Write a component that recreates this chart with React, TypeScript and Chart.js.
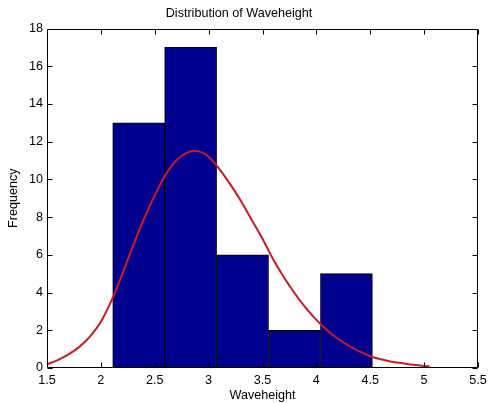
import React, { useEffect, useRef } from "react";
import { Chart, registerables } from "chart.js";

Chart.register(...registerables);

const binCenters = [2.351, 2.833, 3.315, 3.797, 4.279];
const binCounts = [13, 17, 6, 2, 5];
const curveX = [1.5, 1.6, 1.7, 1.8, 1.9, 2.0, 2.1, 2.2, 2.3, 2.4, 2.5, 2.6, 2.7, 2.8, 2.9, 3.0, 3.1, 3.2, 3.3, 3.4, 3.5, 3.6, 3.7, 3.8, 3.9, 4.0, 4.1, 4.2, 4.3, 4.4, 4.5, 4.6, 4.7, 4.8, 4.9, 5.0, 5.05];
const curveY = [0.2, 0.42, 0.72, 1.12, 1.68, 2.45, 3.6, 5.0, 6.5, 7.9, 9.15, 10.25, 11.0, 11.42, 11.5, 11.2, 10.55, 9.75, 8.85, 7.85, 6.85, 5.75, 4.8, 3.95, 3.2, 2.55, 2.0, 1.55, 1.18, 0.88, 0.62, 0.46, 0.33, 0.25, 0.17, 0.11, 0.09];
const xTicks = [1.5, 2, 2.5, 3, 3.5, 4, 4.5, 5, 5.5];
const yTicks = [0, 2, 4, 6, 8, 10, 12, 14, 16, 18];

const FONT = "'Liberation Sans', Arial, sans-serif";

const boxTicks = {
  id: "boxTicks",
  afterDraw(chart: any) {
    const { ctx, chartArea } = chart;
    const xs = chart.scales.x;
    const ys = chart.scales.y;
    const L = 5;
    ctx.save();
    ctx.strokeStyle = "#000";
    ctx.lineWidth = 1;
    ctx.beginPath();
    const l = Math.round(chartArea.left) + 0.5;
    const r = Math.round(chartArea.right) - 0.5;
    const t = Math.round(chartArea.top) + 0.5;
    const b = Math.round(chartArea.bottom) - 0.5;
    ctx.rect(l, t, r - l, b - t);
    for (const v of xTicks) {
      const px = Math.round(xs.getPixelForValue(v)) + 0.5;
      ctx.moveTo(px, b);
      ctx.lineTo(px, b - L);
      ctx.moveTo(px, t);
      ctx.lineTo(px, t + L);
    }
    for (const v of yTicks) {
      const py = Math.round(ys.getPixelForValue(v)) + 0.5;
      ctx.moveTo(l, py);
      ctx.lineTo(l + L, py);
      ctx.moveTo(r, py);
      ctx.lineTo(r - L, py);
    }
    ctx.stroke();
    ctx.restore();
  },
};

export default function App() {
  const ref = useRef<HTMLCanvasElement | null>(null);
  useEffect(() => {
    document.body.style.margin = "0";
    const canvas = ref.current!;
    const chart = new Chart(canvas, {
      type: "bar",
      data: {
        datasets: [
          {
            type: "line",
            label: "Normal fit",
            data: curveX.map((x, i) => ({ x, y: curveY[i] })),
            borderColor: "rgb(205,25,35)",
            borderWidth: 2,
            pointRadius: 0,
            fill: false,
            tension: 0.3,
            order: 0,
          } as any,
          {
            type: "bar",
            label: "Waveheight",
            data: binCenters.map((x, i) => ({ x, y: binCounts[i] })),
            backgroundColor: "rgb(0,0,143)",
            borderColor: "#000",
            borderWidth: 1,
            borderSkipped: false,
            barPercentage: 1,
            categoryPercentage: 1,
            order: 1,
          } as any,
        ],
      },
      options: {
        animation: false,
        responsive: false,
        maintainAspectRatio: false,
        layout: { padding: { left: 0, right: 10, top: 0, bottom: 0 } },
        plugins: {
          legend: { display: false },
          tooltip: { enabled: false },
          title: {
            display: true,
            text: "Distribution of Waveheight",
            color: "#000",
            font: { family: FONT, size: 12.6, weight: "normal" },
            padding: { top: 6, bottom: 7.4 },
          },
        },
        scales: {
          x: {
            type: "linear",
            min: 1.5,
            max: 5.5,
            offset: false,
            afterBuildTicks: (s: any) => {
              s.ticks = xTicks.map((v) => ({ value: v }));
            },
            afterFit: (s: any) => {
              s.height = 35;
              s.paddingLeft = 0;
              s.paddingRight = 0;
            },
            grid: { display: false, drawTicks: false },
            border: { display: false },
            ticks: {
              color: "#000",
              padding: 5,
              maxRotation: 0,
              autoSkip: false,
              font: { family: FONT, size: 12.6 },
              callback: (v: any) => String(v),
            },
            title: {
              display: true,
              text: "Waveheight",
              color: "#000",
              font: { family: FONT, size: 12.6 },
              padding: { top: 0, bottom: 0 },
            },
          },
          y: {
            type: "linear",
            min: 0,
            max: 18,
            afterBuildTicks: (s: any) => {
              s.ticks = yTicks.map((v) => ({ value: v }));
            },
            afterFit: (s: any) => {
              s.width = 47;
              s.paddingTop = 0;
              s.paddingBottom = 0;
            },
            grid: { display: false, drawTicks: false },
            border: { display: false },
            ticks: {
              color: "#000",
              padding: 4,
              autoSkip: false,
              font: { family: FONT, size: 12.6 },
              callback: (v: any) => String(v),
            },
            title: {
              display: true,
              text: "Frequency",
              color: "#000",
              font: { family: FONT, size: 12.6 },
              padding: { top: 6, bottom: 0 },
            },
          },
        },
      } as any,
      plugins: [boxTicks],
    });
    return () => chart.destroy();
  }, []);
  return (
    <div style={{ width: 488, height: 403, background: "#fff" }}>
      <canvas ref={ref} width={488} height={403} style={{ display: "block", width: 488, height: 403 }} />
    </div>
  );
}
